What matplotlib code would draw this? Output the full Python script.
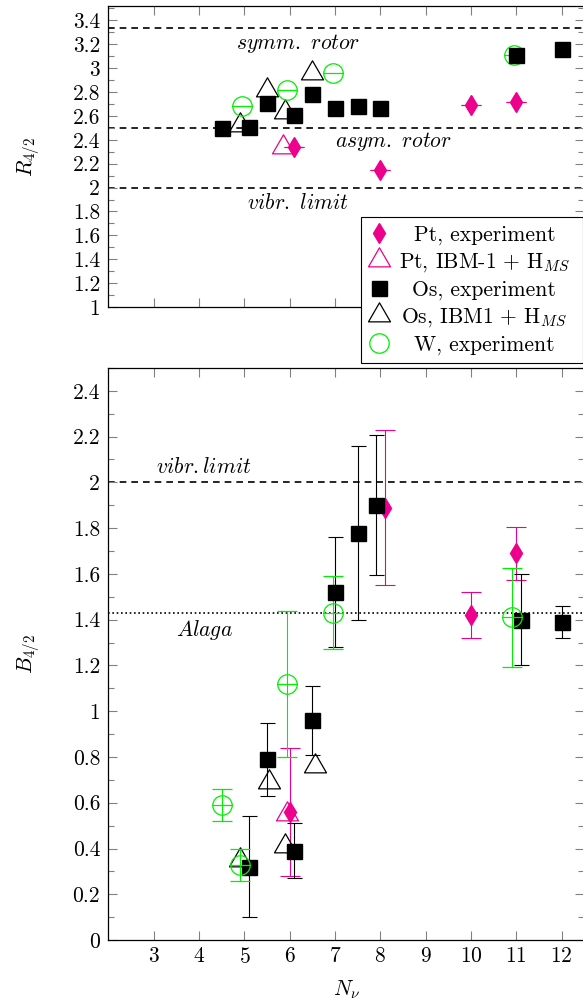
import numpy as np
import matplotlib
matplotlib.use("Agg")
import matplotlib.pyplot as plt
from matplotlib.path import Path
from matplotlib.lines import Line2D
from matplotlib.ticker import MultipleLocator, FormatStrFormatter
from matplotlib.offsetbox import VPacker, DrawingArea

plt.rcParams['font.family'] = 'serif'
plt.rcParams['font.serif'] = ['cmr10']
plt.rcParams['mathtext.fontset'] = 'cm'
plt.rcParams['axes.formatter.use_mathtext'] = True
plt.rcParams['font.size'] = 15.5

PINK = '#EC008C'
GREEN = '#00EE00'

# ---- R_4/2, upper panel
pt_exp_x = [6.1, 8, 10, 11]
pt_exp_r = [2.34, 2.15, 2.69, 2.72]
pt_ibm_x = [5.85]
pt_ibm_r = [2.34]
os_exp_x = [4.5, 5.1, 5.5, 6.1, 6.5, 7, 7.5, 8, 11, 12]
os_exp_r = [2.50, 2.51, 2.71, 2.61, 2.78, 2.67, 2.68, 2.67, 3.11, 3.16]
os_ibm_x = [4.9, 5.5, 5.9, 6.5]
os_ibm_r = [2.52, 2.82, 2.63, 2.96]
w_exp_x = [4.95, 5.95, 6.95, 10.95]
w_exp_r = [2.68, 2.82, 2.96, 3.11]

# ---- B_4/2, lower panel
pt_b_x = [6.0, 8.1, 10, 11]
pt_b = [0.56, 1.89, 1.42, 1.69]
pt_b_err = [0.28, 0.34, 0.10, 0.115]
pt_ibm_b_x = [5.95]
pt_ibm_b = [0.55]
os_b_x = [5.1, 5.5, 6.1, 6.5, 7, 7.5, 7.9, 11.1, 12]
os_b = [0.32, 0.79, 0.39, 0.96, 1.52, 1.78, 1.90, 1.40, 1.39]
os_b_err = [0.22, 0.16, 0.12, 0.15, 0.24, 0.38, 0.305, 0.20, 0.07]
os_ibm_b_x = [4.9, 5.55, 5.9, 6.55]
os_ibm_b = [0.35, 0.69, 0.41, 0.76]
w_b_x = [4.5, 4.9, 5.95, 6.95, 10.9]
w_b = [0.59, 0.33, 1.12, 1.43, 1.41]
w_b_err = [0.07, 0.07, 0.32, 0.16, 0.215]

# limits
r_symm, r_asym, r_vibr = 10 / 3, 2.5, 2.0
b_vibr, b_alaga = 2.0, 10 / 7

x_ticks = [3, 4, 5, 6, 7, 8, 9, 10, 11, 12]

# markers like pgfplots: triangle in a circle, circle with a bar
tri = Path([(0, 1), (-0.866, -0.5), (0.866, -0.5), (0, 1)],
           [Path.MOVETO, Path.LINETO, Path.LINETO, Path.CLOSEPOLY])
circ_bar = Path.make_compound_path(Path.unit_circle(),
                                   Path([(-1, 0), (1, 0)], [Path.MOVETO, Path.LINETO]))

dia = dict(marker='d', ms=10.2, color=PINK, mec=PINK, ls='none')
sq = dict(marker='s', ms=10.8, color='black', ls='none')
tri_pt = dict(marker=tri, ms=18.3, mfc='none', mec=PINK, mew=0.9, ls='none')
tri_os = dict(marker=tri, ms=18.3, mfc='none', mec='black', mew=0.9, ls='none')
w_st = dict(marker=circ_bar, ms=14, mfc='none', mec=GREEN, mew=0.9, ls='none')

fig = plt.figure(figsize=(5.83, 10.01), dpi=100)
ax1 = fig.add_axes([0.1861, 0.6933, 0.8160, 0.3007])
ax2 = fig.add_axes([0.1861, 0.0609, 0.8160, 0.5715])


def style_axes(ax):
    ax.set_xlim(2, 12.5)
    ax.set_xticks(x_ticks)
    ax.yaxis.set_major_locator(MultipleLocator(0.2))
    ax.yaxis.set_minor_locator(MultipleLocator(0.1))
    ax.yaxis.set_major_formatter(FormatStrFormatter('%g'))
    ax.tick_params(which='both', direction='in', top=True, right=True,
                   color='0.5', width=0.8)
    ax.tick_params(which='major', length=6.5)
    ax.tick_params(which='minor', length=4.3)
    ax.tick_params(axis='y', pad=6)
    ax.tick_params(axis='x', pad=5)
    for s in ax.spines.values():
        s.set_linewidth(0.9)


# upper panel
style_axes(ax1)
ax1.set_ylim(1, 3.52)
ax1.set_xticklabels([])
for yl in (r_symm, r_asym, r_vibr):
    ax1.axhline(yl, color='black', lw=1.2, ls=(0, (4, 3)), zorder=1)
ax1.text(6.19, 3.163, r'$symm.\ rotor$', ha='center', va='baseline')
ax1.text(8.28, 2.336, r'$asym.\ rotor$', ha='center', va='baseline')
ax1.text(6.19, 1.817, r'$vibr.\ limit$', ha='center', va='baseline')

ax1.errorbar(pt_exp_x, pt_exp_r, yerr=np.zeros(len(pt_exp_x)), ecolor=PINK,
             elinewidth=0.8, capsize=7, capthick=0.8, **dia)
ax1.plot(pt_ibm_x, pt_ibm_r, **tri_pt)
ax1.errorbar(os_exp_x, os_exp_r, yerr=np.zeros(len(os_exp_x)), ecolor='black',
             elinewidth=0.8, capsize=5.4, capthick=0.8, **sq)
ax1.plot(os_ibm_x, os_ibm_r, **tri_os)
ax1.plot(w_exp_x, w_exp_r, **w_st)
ax1.set_ylabel(r'$R_{4/2}$')
ax1.yaxis.set_label_coords(-0.140, 0.5)

# lower panel
style_axes(ax2)
ax2.set_ylim(0, 2.5)
ax2.axhline(b_vibr, color='black', lw=1.2, ls=(0, (4, 3)), zorder=1)
ax2.axhline(b_alaga, color='black', lw=1.2, ls=(0, (1, 1.6)), zorder=1)
ax2.text(4.10, 2.043, r'$vibr.limit$', ha='center', va='baseline')
ax2.text(4.12, 1.33, r'$Alaga$', ha='center', va='baseline')

ax2.errorbar(pt_b_x, pt_b, yerr=pt_b_err, ecolor=PINK, elinewidth=0.8,
             capsize=7, capthick=0.8, **dia)
ax2.plot(pt_ibm_b_x, pt_ibm_b, **tri_pt)
ax2.errorbar(os_b_x, os_b, yerr=os_b_err, ecolor='black', elinewidth=0.8,
             capsize=5.4, capthick=0.8, **sq)
ax2.plot(os_ibm_b_x, os_ibm_b, **tri_os)
ax2.errorbar(w_b_x, w_b, yerr=w_b_err, ecolor=GREEN, elinewidth=0.8,
             capsize=7, capthick=0.8, **w_st)
ax2.set_ylabel(r'$B_{4/2}$')
ax2.yaxis.set_label_coords(-0.140, 0.5)
ax2.set_xlabel(r'$N_\nu$')
ax2.xaxis.set_label_coords(0.5, -0.067)

# legend
handles = [
    Line2D([], [], **dia),
    Line2D([], [], **tri_pt),
    Line2D([], [], **sq),
    Line2D([], [], **tri_os),
    Line2D([], [], marker='o', ms=14, mfc='none', mec=GREEN, mew=0.9, ls='none'),
]
labels = ['Pt, experiment', r'Pt, IBM-1 + $\mathrm{H}_{MS}$', 'Os, experiment',
          r'Os, IBM1 + $\mathrm{H}_{MS}$', 'W, experiment']
leg = fig.legend(handles, labels, loc='upper left',
                 bbox_to_anchor=(361 / 583, 1 - 217 / 1001), borderaxespad=0,
                 fancybox=False, edgecolor='black', framealpha=1,
                 handlelength=0.85, handletextpad=0.3, borderpad=0.39,
                 labelspacing=0.28)
leg.get_frame().set_linewidth(0.8)

# centre the labels in their column, as pgfplots does
col = leg._legend_handle_box.get_children()[0]
for item in col.get_children():
    h, t = item.get_children()
    box = VPacker(children=[t, DrawingArea(130, 0)], align='center', pad=0, sep=0)
    box.set_figure(fig)
    item._children[1] = box

fig.savefig('out.png', dpi=100)
